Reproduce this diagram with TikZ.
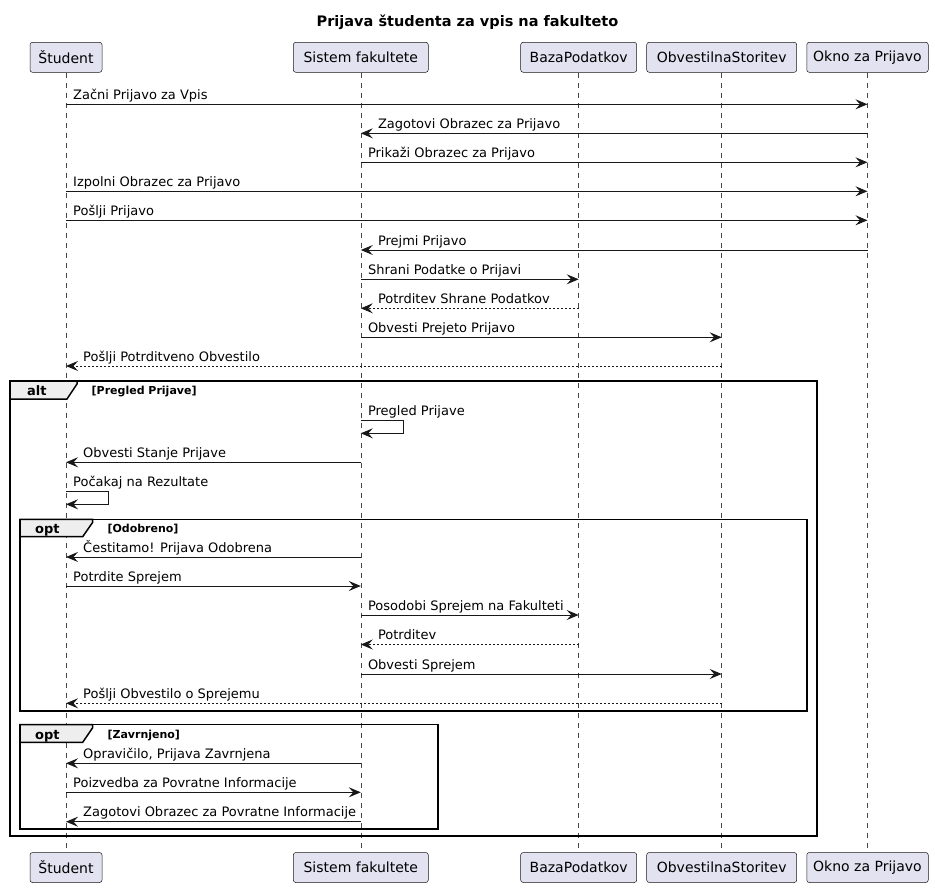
\documentclass[tikz,border=0pt]{standalone}
\usepackage{fontspec}
\setmainfont{DejaVu Sans}
\usetikzlibrary{arrows.meta,calc}
\definecolor{pbox}{HTML}{E2E2F0}
\definecolor{ink}{HTML}{181818}
\definecolor{tabfill}{HTML}{EEEEEE}
\newcounter{lbn}
\tikzset{
  part/.style={draw=ink, fill=pbox, line width=0.5pt, rounded corners=2.5pt,
    minimum height=30pt, inner sep=0pt, font=\fontsize{14}{16}\selectfont, text=black},
  life/.style={draw=ink!80, line width=0.5pt, dash pattern=on 5pt off 5pt},
  msg/.style={draw=ink, line width=1pt, -{Stealth[length=12pt,width=10pt,inset=4.5pt,fill=ink]}},
  ret/.style={msg, dash pattern=on 2pt off 2pt},
  lbl/.style={font=\fontsize{13}{15}\selectfont, inner sep=0pt, anchor=base west, text=black},
  framebox/.style={draw=black, line width=1.5pt},
  tabbox/.style={draw=black, line width=1.5pt, fill=tabfill},
  kw/.style={font=\bfseries\fontsize{13}{15}\selectfont, inner sep=0pt, anchor=base west},
  guard/.style={font=\bfseries\fontsize{11}{13}\selectfont, inner sep=0pt, anchor=base west},
}
% right-going message: style, from, to, y, label
\newcommand\RMsg[5]{%
  \draw[#1] (#2 |- 0,#4) -- (#3 |- 0,#4);
  \stepcounter{lbn}%
  \node[lbl] (lab\thelbn) at ($(#2 |- 0,#4)+(7,-5)$) {#5};}
% left-going message: style, from, to, y, label
\newcommand\LMsg[5]{%
  \draw[#1] (#2 |- 0,#4) -- (#3 |- 0,#4);
  \stepcounter{lbn}%
  \node[lbl] (lab\thelbn) at ($(#3 |- 0,#4)+(17,-5)$) {#5};}
% self message: lifeline, y, width, label
\newcommand\SMsg[4]{%
  \coordinate (sa\thelbn) at (#1 |- 0,#2);
  \coordinate (sb\thelbn) at (#1 |- 0,#2+12.6);
  \draw[msg] (sa\thelbn) -- ++(#3,0) -- ++(0,12.6) -- (sb\thelbn);
  \stepcounter{lbn}%
  \node[lbl] (lab\thelbn) at ($(#1 |- 0,#2)+(7,-5)$) {#4};}
\begin{document}
\begin{tikzpicture}[x=1pt,y=-1pt]
\useasboundingbox (0,0) rectangle (935,888);
\node[font=\bfseries\fontsize{14.5}{16}\selectfont] (title) at (467.5,22) {Prijava študenta za vpis na fakulteto};
% participants
\node[part, minimum width=72pt]  (st) at (66,57.3)    {Študent};
\node[part, minimum width=135pt] (ss) at (360.8,57.3) {Sistem fakultete};
\node[part, minimum width=116pt] (bp) at (578.7,57.3) {BazaPodatkov};
\node[part, minimum width=150pt] (os) at (721.7,57.3) {ObvestilnaStoritev};
\node[part, minimum width=121.5pt] (ok) at (867.5,57.3) {Okno za Prijavo};
\node[part, minimum width=72pt]  (stb) at (66,867.5)    {Študent};
\node[part, minimum width=135pt] (ssb) at (360.8,867.5) {Sistem fakultete};
\node[part, minimum width=116pt] (bpb) at (578.7,867.5) {BazaPodatkov};
\node[part, minimum width=150pt] (osb) at (721.7,867.5) {ObvestilnaStoritev};
\node[part, minimum width=121.5pt] (okb) at (867.5,867.5) {Okno za Prijavo};
% lifelines
\draw[life] (st.south) -- (stb.north);
\draw[life] (ss.south) -- (ssb.north);
\draw[life] (bp.south) -- (bpb.north);
\draw[life] (os.south) -- (osb.north);
\draw[life] (ok.south) -- (okb.north);
% frames
\draw[framebox] (10,381) rectangle (817,836);
\draw[tabbox] (10,381) -- (77,381) -- (77,384) -- (67,399) -- (10,399) -- cycle;
\node[kw] (altkw) at (27,395.5) {alt};
\node[guard] (altg) at (91.5,394.5) {[Pregled Prijave]};
\draw[framebox] (20,519.3) rectangle (807,711);
\draw[tabbox] (20,519.3) -- (92.7,519.3) -- (92.7,522.3) -- (82.7,536.7) -- (20,536.7) -- cycle;
\node[kw] (opt1kw) at (35,533.5) {opt};
\node[guard] (opt1g) at (107.3,532.5) {[Odobreno]};
\draw[framebox] (20,724.7) rectangle (438,829);
\draw[tabbox] (20,724.7) -- (92.7,724.7) -- (92.7,727.7) -- (82.7,742.3) -- (20,742.3) -- cycle;
\node[kw] (opt2kw) at (35,739) {opt};
\node[guard] (opt2g) at (107.3,738) {[Zavrnjeno]};
% messages
\RMsg{msg}{st}{ok}{104.3}{Začni Prijavo za Vpis}
\LMsg{msg}{ok}{ss}{133.3}{Zagotovi Obrazec za Prijavo}
\RMsg{msg}{ss}{ok}{162.3}{Prikaži Obrazec za Prijavo}
\RMsg{msg}{st}{ok}{191.3}{Izpolni Obrazec za Prijavo}
\RMsg{msg}{st}{ok}{220.3}{Pošlji Prijavo}
\LMsg{msg}{ok}{ss}{250}{Prejmi Prijavo}
\RMsg{msg}{ss}{bp}{279.3}{Shrani Podatke o Prijavi}
\LMsg{ret}{bp}{ss}{308.3}{Potrditev Shrane Podatkov}
\RMsg{msg}{ss}{os}{337.3}{Obvesti Prejeto Prijavo}
\LMsg{ret}{os}{st}{366}{Pošlji Potrditveno Obvestilo}
\SMsg{ss}{420.7}{43}{Pregled Prijave}
\LMsg{msg}{ss}{st}{462.3}{Obvesti Stanje Prijave}
\SMsg{st}{491.7}{42}{Počakaj na Rezultate}
\LMsg{msg}{ss}{st}{557}{Čestitamo! Prijava Odobrena}
\RMsg{msg}{st}{ss}{586}{Potrdite Sprejem}
\RMsg{msg}{ss}{bp}{615}{Posodobi Sprejem na Fakulteti}
\LMsg{ret}{bp}{ss}{644.5}{Potrditev}
\RMsg{msg}{ss}{os}{674}{Obvesti Sprejem}
\LMsg{ret}{os}{st}{703.3}{Pošlji Obvestilo o Sprejemu}
\LMsg{msg}{ss}{st}{763.3}{Opravičilo, Prijava Zavrnjena}
\RMsg{msg}{st}{ss}{792.3}{Poizvedba za Povratne Informacije}
\LMsg{msg}{ss}{st}{821.7}{Zagotovi Obrazec za Povratne Informacije}
\end{tikzpicture}
\end{document}
